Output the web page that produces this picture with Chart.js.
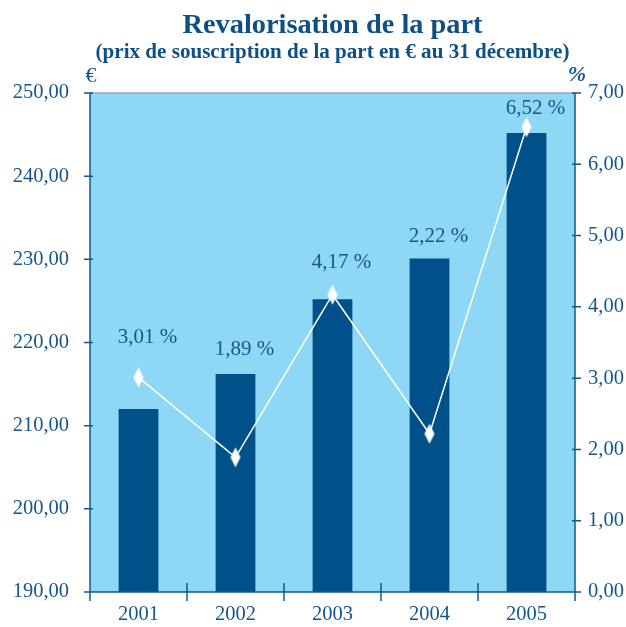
<!DOCTYPE html>
<html>
<head>
<meta charset="utf-8">
<script src="https://cdn.jsdelivr.net/npm/chart.js@4/dist/chart.umd.min.js"></script>
<style>
    body { margin: 0; background: #ffffff; }
    #wrap { width: 626px; height: 627px; position: relative; }
</style>
</head>
<body>
<div id="wrap"><canvas id="chart"></canvas></div>
<script>
// Chart data
const years = ['2001', '2002', '2003', '2004', '2005'];
const partPrice = [212.0, 216.2, 225.2, 230.1, 245.2];
const revalPct = [3.01, 1.89, 4.17, 2.22, 6.52];

const TEXT = '#15568c';
const TITLE = '#0e4f86';
const BAR = '#00508a';
const BG = '#8ed8f5';
const SERIF = '"Liberation Serif", "DejaVu Serif", serif';
const TICK_FONT = { family: SERIF, size: 20.5 };

const fmt = v => v.toFixed(2).replace('.', ',');

// elongated white diamond for the line points
function diamond() {
    const c = document.createElement('canvas');
    c.width = 12; c.height = 22;
    const g = c.getContext('2d');
    g.fillStyle = '#ffffff';
    g.beginPath();
    g.moveTo(6, 1); g.lineTo(11, 11); g.lineTo(6, 21); g.lineTo(1, 11);
    g.closePath();
    g.fill();
    return c;
}

// pick a font size so the text spans the wanted width
function fitText(ctx, text, style, width) {
    ctx.font = style + ' 20px ' + SERIF;
    const size = 20 * width / ctx.measureText(text).width;
    ctx.font = style + ' ' + size.toFixed(2) + 'px ' + SERIF;
}

// background, titles, axis units and tick marks
const decor = {
    id: 'decor',
    beforeDraw(chart) {
        const { ctx, chartArea: a } = chart;
        ctx.save();
        ctx.fillStyle = BG;
        ctx.fillRect(a.left, a.top, a.right - a.left, a.bottom - a.top);
        ctx.restore();
    },
    afterDraw(chart) {
        const { ctx, chartArea: a, scales } = chart;
        const cx = (a.left + a.right) / 2;
        ctx.save();
        ctx.fillStyle = TITLE;
        ctx.textAlign = 'center';
        ctx.textBaseline = 'alphabetic';
        const title = 'Revalorisation de la part';
        const sub = '(prix de souscription de la part en € au 31 décembre)';
        fitText(ctx, title, 'bold', 300);
        ctx.fillText(title, cx, 33);
        fitText(ctx, sub, 'bold', 474);
        ctx.fillText(sub, cx, 58);

        ctx.fillStyle = TEXT;
        ctx.textBaseline = 'middle';
        ctx.font = '22px ' + SERIF;
        ctx.fillText('€', a.left + 1, 76);
        ctx.font = 'italic bold 22px ' + SERIF;
        ctx.fillText('%', a.right + 2, 75);

        // top border
        ctx.strokeStyle = '#9aa7b0';
        ctx.lineWidth = 1.5;
        ctx.beginPath();
        ctx.moveTo(a.left, a.top); ctx.lineTo(a.right, a.top);
        ctx.stroke();

        // axis lines and ticks
        ctx.strokeStyle = TEXT;
        ctx.lineWidth = 1.5;
        ctx.beginPath();
        ctx.moveTo(a.left, a.top); ctx.lineTo(a.left, a.bottom);
        ctx.moveTo(a.right, a.top); ctx.lineTo(a.right, a.bottom);
        ctx.moveTo(a.left - 6, a.bottom); ctx.lineTo(a.right + 6, a.bottom);
        scales.y.ticks.forEach(t => {
            const y = scales.y.getPixelForValue(t.value);
            ctx.moveTo(a.left - 6, y); ctx.lineTo(a.left + 3, y);
        });
        scales.y1.ticks.forEach(t => {
            const y = scales.y1.getPixelForValue(t.value);
            ctx.moveTo(a.right - 3, y); ctx.lineTo(a.right + 6, y);
        });
        const step = (a.right - a.left) / years.length;
        for (let i = 0; i <= years.length; i++) {
            const x = a.left + i * step;
            ctx.moveTo(x, a.bottom - 9); ctx.lineTo(x, a.bottom + 9);
        }
        ctx.stroke();
        ctx.restore();
    }
};

// percentage labels above the bars
const pctLabels = {
    id: 'pctLabels',
    beforeDatasetsDraw(chart, args, opts) {
        const { ctx, scales } = chart;
        ctx.save();
        ctx.fillStyle = TEXT;
        ctx.font = '21px ' + SERIF;
        ctx.textAlign = 'center';
        ctx.textBaseline = 'middle';
        revalPct.forEach((v, i) => {
            const x = scales.x.getPixelForValue(i) + 9;
            const top = scales.y.getPixelForValue(partPrice[i]);
            ctx.fillText(fmt(v) + ' %', x, top - 23 - (opts.lift[i] || 0));
        });
        ctx.restore();
    }
};

new Chart(document.getElementById('chart'), {
    data: {
        labels: years,
        datasets: [{
            type: 'line',
            data: revalPct,
            yAxisID: 'y1',
            borderColor: '#ffffff',
            borderWidth: 1.5,
            pointStyle: diamond(),
            pointRadius: 10,
            order: 0
        }, {
            type: 'bar',
            data: partPrice,
            yAxisID: 'y',
            backgroundColor: BAR,
            barPercentage: 0.41,
            categoryPercentage: 1,
            order: 1
        }]
    },
    options: {
        responsive: true,
        maintainAspectRatio: false,
        animation: false,
        layout: { padding: { top: 93, left: 0, right: 0, bottom: 0 } },
        plugins: {
            legend: { display: false },
            tooltip: { enabled: false },
            pctLabels: { lift: [49, 2, 14, -1, 1] }
        },
        scales: {
            x: {
                grid: { display: false, drawTicks: false },
                border: { display: false },
                ticks: { color: TEXT, font: TICK_FONT, padding: 10 },
                afterFit: s => { s.height = 35; }
            },
            y: {
                position: 'left',
                min: 190,
                max: 250,
                grid: { display: false, drawTicks: false },
                border: { display: false },
                ticks: {
                    stepSize: 10,
                    color: TEXT,
                    font: TICK_FONT,
                    padding: 21,
                    callback: v => fmt(v)
                },
                afterFit: s => { s.width = 90; }
            },
            y1: {
                position: 'right',
                min: 0,
                max: 7,
                grid: { display: false, drawTicks: false },
                border: { display: false },
                ticks: {
                    stepSize: 1,
                    color: TEXT,
                    font: TICK_FONT,
                    padding: 13,
                    callback: v => fmt(v)
                },
                afterFit: s => { s.width = 51; }
            }
        }
    },
    plugins: [decor, pctLabels]
});
</script>
</body>
</html>
